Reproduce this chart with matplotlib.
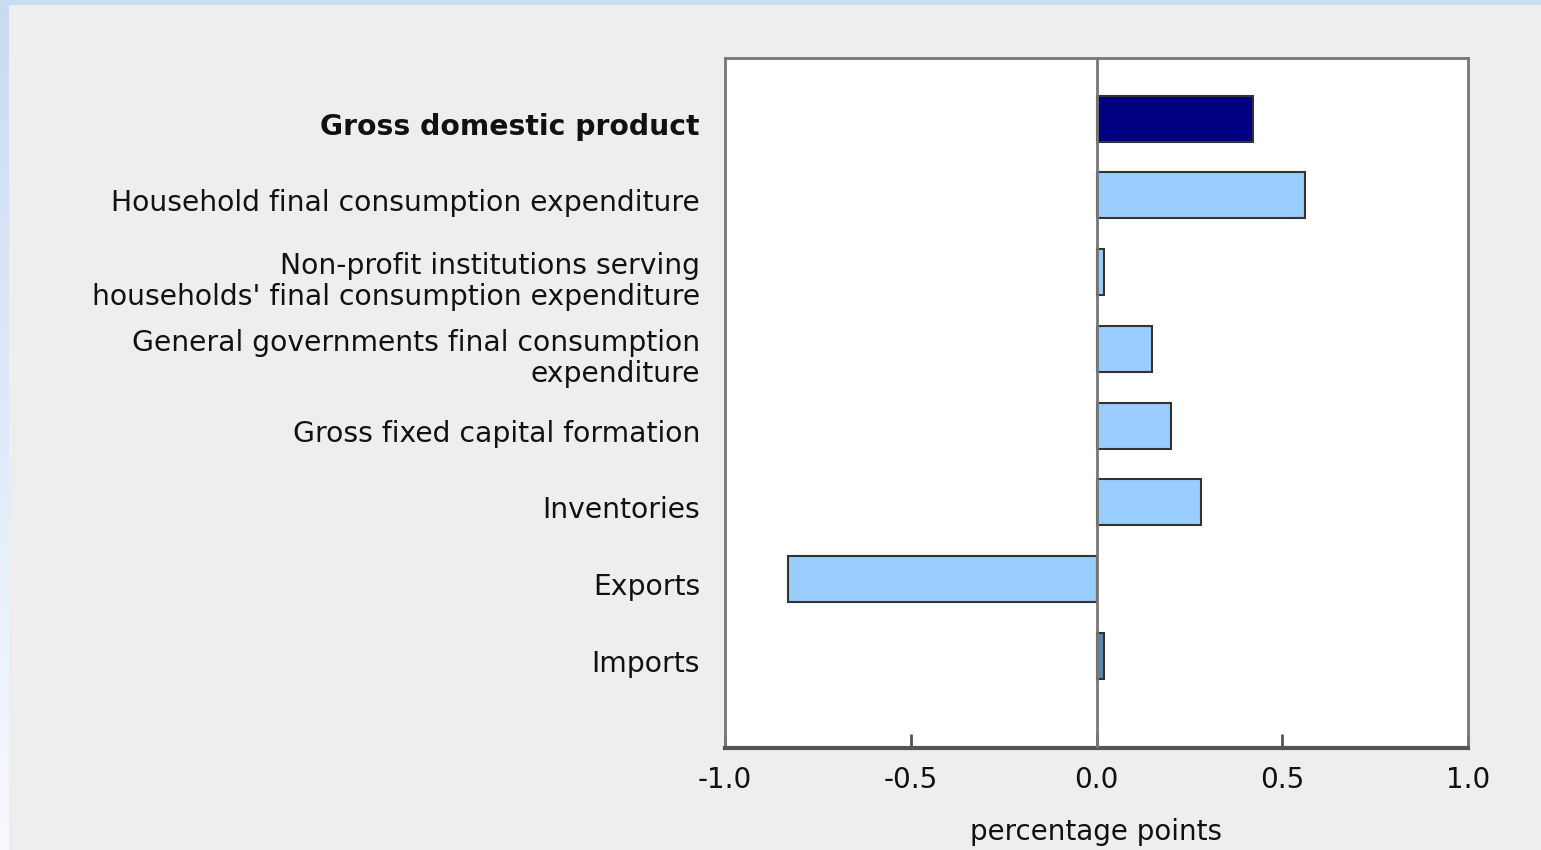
import matplotlib

matplotlib.use("Agg")
import matplotlib.pyplot as plt
import matplotlib.transforms as mtransforms
import numpy as np

categories = [
    "Gross domestic product",
    "Household final consumption expenditure",
    "Non-profit institutions serving\nhouseholds' final consumption expenditure",
    "General governments final consumption\nexpenditure",
    "Gross fixed capital formation",
    "Inventories",
    "Exports",
    "Imports",
]
values = [0.42, 0.56, 0.02, 0.15, 0.20, 0.28, -0.83, 0.02]
bar_colors = ["#000080", "#99ccff", "#99ccff", "#99ccff",
              "#99ccff", "#99ccff", "#99ccff", "#5a86b4"]
x_ticks = [-1.0, -0.5, 0.0, 0.5, 1.0]
x_label = "percentage points"

plt.rcParams["font.family"] = ["DejaVu Sans"]
plt.rcParams["axes.unicode_minus"] = False

fig = plt.figure(figsize=(15.41, 8.5), dpi=100)
fig.patch.set_facecolor("#eeeeee")

# light blue frame strip at top and gradient on the left edge
bg = fig.add_axes([0, 0, 1, 1], zorder=-10)
bg.set_axis_off()
bg.set_xlim(0, 1541)
bg.set_ylim(850, 0)
bg.add_patch(plt.Rectangle((0, 0), 1541, 5, color="#c9dcf2", lw=0))
grad = np.linspace(0, 1, 100).reshape(-1, 1)
left = np.ones((100, 1, 3))
top_c = np.array([0.79, 0.86, 0.95])
bot_c = np.array([0.97, 0.98, 1.0])
left[:, 0, :] = top_c * (1 - grad) + bot_c * grad
bg.imshow(left, extent=[0, 9, 850, 5], aspect="auto")

ax = fig.add_axes([725 / 1541, 1 - 748 / 850, 743 / 1541, 690 / 850])
ax.set_facecolor("white")

y = np.arange(len(categories))
ax.barh(y, values, height=0.6, color=bar_colors,
        edgecolor="#333333", linewidth=1.5, zorder=3)
ax.axvline(0, color="#777777", linewidth=2, zorder=4)

ax.set_xlim(-1.0, 1.0)
ax.set_ylim(8.2, -0.79)
ax.set_xticks(x_ticks)
ax.set_xticklabels([f"{t:.1f}" for t in x_ticks])
ax.tick_params(axis="x", direction="in", length=10, width=2, color="#555555",
               labelsize=20, pad=13, labelcolor="#111111")
ax.set_yticks(y)
ax.set_yticklabels(categories, fontsize=20.3, color="#111111", linespacing=1.12)
ax.tick_params(axis="y", length=0, pad=18)
ax.get_yticklabels()[0].set_fontweight("bold")
shift = mtransforms.ScaledTranslation(0, -5 / 100, fig.dpi_scale_trans)
for lbl in ax.get_yticklabels():
    lbl.set_transform(lbl.get_transform() + shift)

for side in ["top", "left", "right"]:
    ax.spines[side].set_color("#777777")
    ax.spines[side].set_linewidth(2)
ax.spines["bottom"].set_color("#555555")
ax.spines["bottom"].set_linewidth(3)

ax.set_xlabel(x_label, fontsize=20, color="#111111", labelpad=17)

fig.savefig("out.png", dpi=100, facecolor=fig.get_facecolor())
